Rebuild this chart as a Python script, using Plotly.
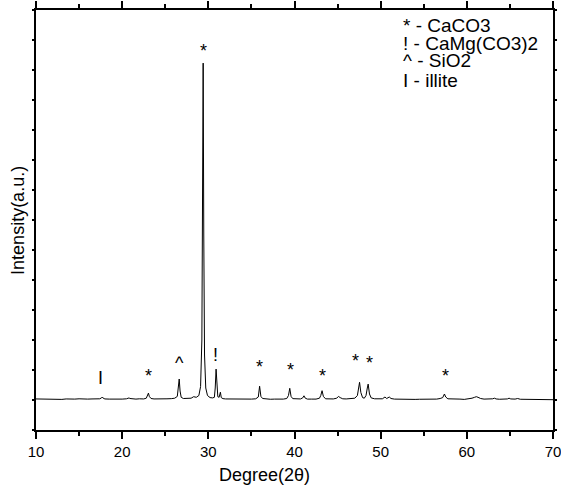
import plotly.graph_objects as go

two_theta = [
    10.0, 10.5, 11.0, 11.5, 12.0, 12.5, 13.0, 13.5, 14.0, 14.5, 15.0, 15.5, 16.0, 16.5, 17.0,
    17.4, 17.6, 17.7, 17.8, 18.0, 18.5, 19.0, 19.5, 20.0, 20.5, 20.7, 20.8, 20.9, 21.2, 21.6,
    22.0, 22.5, 22.8, 22.95, 23.05, 23.15, 23.35, 23.7, 24.2, 24.7, 25.2, 25.7, 26.1, 26.4,
    26.52, 26.62, 26.72, 26.85, 27.1, 27.5, 28.0, 28.3, 28.6, 28.9, 29.1, 29.25, 29.33, 29.40,
    29.47, 29.56, 29.7, 29.9, 30.2, 30.5, 30.7, 30.8, 30.9, 31.0, 31.1, 31.25, 31.4, 31.5, 31.7,
    32.0, 32.5, 33.0, 33.5, 34.0, 34.5, 35.0, 35.5, 35.8, 35.95, 36.1, 36.3, 36.7, 37.2, 37.7,
    38.2, 38.7, 39.1, 39.3, 39.45, 39.6, 39.8, 40.2, 40.7, 40.95, 41.1, 41.25, 41.5, 42.0, 42.5,
    42.9, 43.05, 43.2, 43.35, 43.6, 44.0, 44.5, 44.9, 45.1, 45.3, 45.6, 46.0, 46.5, 47.0, 47.3,
    47.45, 47.55, 47.7, 47.9, 48.1, 48.3, 48.45, 48.55, 48.7, 48.9, 49.3, 49.8, 50.2, 50.5, 50.7,
    51.0, 51.2, 51.6, 52.0, 52.5, 53.0, 53.5, 54.0, 54.5, 55.0, 55.5, 56.0, 56.5, 56.9, 57.2,
    57.4, 57.55, 57.8, 58.2, 58.7, 59.2, 59.7, 60.2, 60.6, 60.9, 61.1, 61.3, 61.6, 62.0, 62.5,
    63.0, 63.2, 63.4, 63.8, 64.3, 64.7, 64.9, 65.1, 65.6, 65.9, 66.2, 66.7, 67.2, 67.7, 68.2,
    68.7, 69.2, 69.6, 70.0,
]

intensity = [
    1035, 1030, 1040, 1025, 1035, 1030, 1020, 1035, 1025, 1030, 1040, 1025, 1030, 1035, 1030,
    1040, 1070, 1100, 1060, 1035, 1030, 1025, 1035, 1030, 1040, 1055, 1070, 1050, 1035, 1030,
    1040, 1035, 1060, 1150, 1230, 1120, 1050, 1035, 1030, 1035, 1040, 1045, 1060, 1120,
    1350, 1700, 1300, 1090, 1050, 1045, 1060, 1110, 1090, 1150, 1450, 3000, 7000, 12230,
    6500, 2500, 1400, 1150, 1080, 1070, 1090, 1400, 2030, 1300, 1110, 1090, 1260, 1080, 1045,
    1035, 1030, 1025, 1030, 1025, 1030, 1030, 1040, 1100, 1460, 1120, 1050, 1030, 1025, 1030,
    1025, 1030, 1050, 1150, 1390, 1120, 1045, 1030, 1035, 1070, 1140, 1060, 1030, 1030, 1030,
    1060, 1150, 1310, 1120, 1040, 1030, 1035, 1060, 1120, 1080, 1040, 1035, 1040, 1060, 1150,
    1400, 1590, 1250, 1080, 1060, 1150, 1400, 1530, 1200, 1070, 1040, 1035, 1040, 1100, 1050,
    1100, 1050, 1030, 1025, 1025, 1020, 1025, 1020, 1025, 1020, 1025, 1020, 1030, 1050, 1080,
    1200, 1100, 1040, 1030, 1025, 1030, 1020, 1030, 1060, 1090, 1110, 1090, 1050, 1030, 1025,
    1040, 1060, 1035, 1025, 1020, 1035, 1060, 1035, 1030, 1050, 1025, 1020, 1015, 1020, 1010,
    1015, 1010, 1015, 1010,
]

# peak labels: symbol, 2theta, label height
mark_symbols = ["I", "*", "^", "!", "*", "*", "*", "*", "*", "*", "*"]
mark_theta = [17.5, 23.1, 26.6, 30.8, 29.45, 35.95, 39.5, 43.2, 47.05, 48.75, 57.5]
mark_height = [1730, 1800, 2250, 2500, 12650, 2100, 2000, 1800, 2300, 2250, 1800]

legend_lines = ["* - CaCO3", "! - CaMg(CO3)2", "^ - SiO2", "I - illite"]

x_ticks = [10, 20, 30, 40, 50, 60, 70]

FONT = "Arial, Liberation Sans, sans-serif"

fig = go.Figure()
fig.add_trace(go.Scatter(
    x=two_theta, y=intensity, mode="lines",
    line=dict(color="black", width=1), hoverinfo="skip", showlegend=False,
))

annotations = []
for s, xv, yv in zip(mark_symbols, mark_theta, mark_height):
    annotations.append(dict(
        x=xv, y=yv, xref="x", yref="y", text=s, showarrow=False,
        font=dict(family=FONT, size=18, color="black"),
        xanchor="center", yanchor="middle",
    ))

legend_y = [0.964, 0.921, 0.879, 0.833]
for t, yy in zip(legend_lines, legend_y):
    annotations.append(dict(
        x=0.7054, y=yy, xref="paper", yref="paper", text=t, showarrow=False,
        font=dict(family=FONT, size=19, color="black"),
        xanchor="left", yanchor="middle",
    ))

annotations.append(dict(
    x=0.442, y=-0.107, xref="paper", yref="paper", text="Degree(2θ)", showarrow=False,
    font=dict(family=FONT, size=18, color="black"), xanchor="center", yanchor="middle",
))
annotations.append(dict(
    x=-0.035, y=0.5, xref="paper", yref="paper", text="Intensity(a.u.)", showarrow=False,
    textangle=-90, font=dict(family=FONT, size=18, color="black"),
    xanchor="center", yanchor="middle",
))

fig.update_layout(
    width=561, height=487,
    margin=dict(l=36, r=8, t=10, b=57, autoexpand=False),
    paper_bgcolor="white", plot_bgcolor="white",
    font=dict(family=FONT, color="black"),
    annotations=annotations,
    xaxis=dict(
        range=[10, 70], tickvals=x_ticks, ticktext=[str(v) for v in x_ticks],
        ticks="outside", ticklen=7, tickwidth=1.5, tickcolor="black",
        minor=dict(dtick=5, tick0=10, ticks="outside", ticklen=4, tickwidth=1.5, tickcolor="black"),
        showline=True, linecolor="black", linewidth=1.5, mirror="ticks",
        showgrid=False, zeroline=False, automargin=False,
        ticklabeloverflow="allow",
        tickfont=dict(family=FONT, size=15, color="black"),
    ),
    yaxis=dict(
        range=[0, 14000], dtick=1000, tick0=0,
        ticks="outside", ticklen=2, tickwidth=1.5, tickcolor="black",
        showticklabels=False,
        showline=True, linecolor="black", linewidth=1.5, mirror="ticks",
        showgrid=False, zeroline=False, automargin=False,
    ),
)

fig.write_html("out.html")
